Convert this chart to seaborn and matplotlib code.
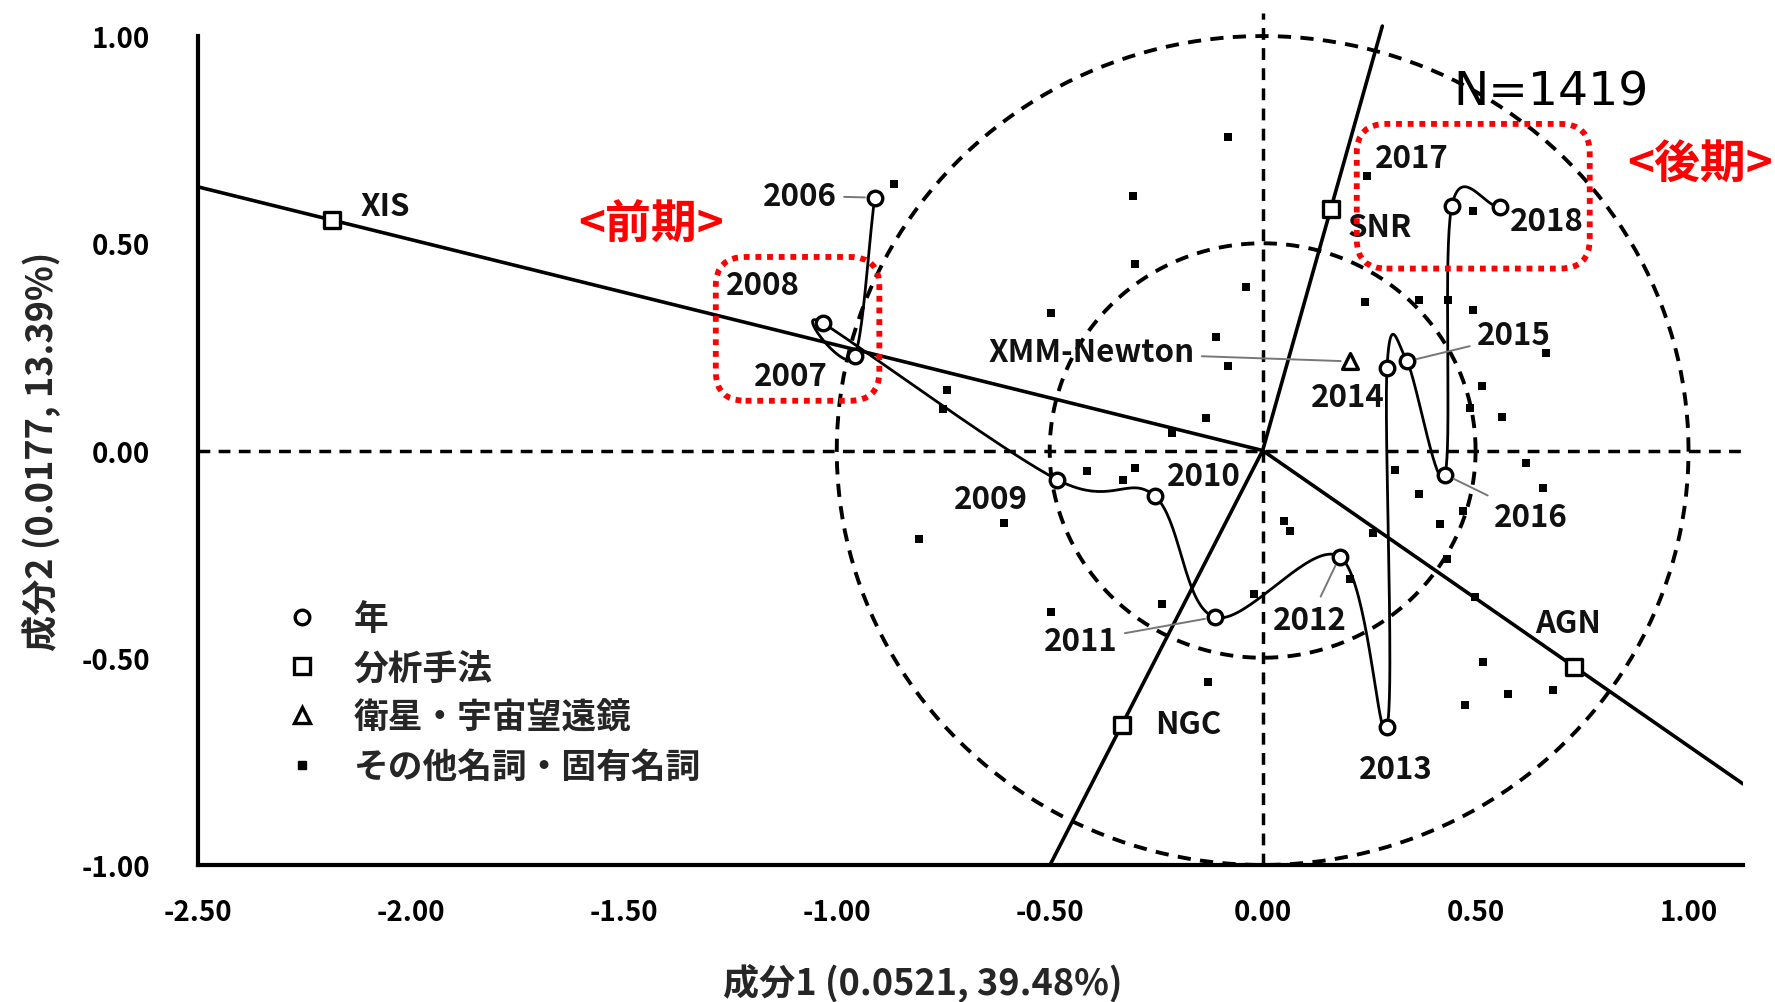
import numpy as np
import pandas as pd
import matplotlib
matplotlib.use("Agg")
import matplotlib.pyplot as plt
from matplotlib.patches import FancyBboxPatch
from matplotlib.lines import Line2D
import seaborn as sns

# ---------------------------------------------------------------- data
years = ["2006", "2007", "2008", "2009", "2010", "2011", "2012",
         "2013", "2014", "2015", "2016", "2017", "2018"]
year_x = [-0.911, -0.958, -1.032, -0.483, -0.253, -0.113, 0.181,
          0.292, 0.292, 0.339, 0.428, 0.444, 0.557]
year_y = [0.610, 0.227, 0.307, -0.070, -0.110, -0.402, -0.256,
          -0.667, 0.199, 0.215, -0.058, 0.589, 0.587]

methods = ["XIS", "SNR", "NGC", "AGN"]
method_x = [-2.185, 0.160, -0.331, 0.732]
method_y = [0.556, 0.583, -0.663, -0.522]

satellites = ["XMM-Newton"]
satellite_x = [0.206]
satellite_y = [0.215]

other_x = [-0.866, -0.498, -0.740, -0.750, -0.132, -0.300, -0.413, -0.327,
           -0.607, 0.050, 0.065, -0.498, -0.237, -0.214, -0.020, -0.806,
           -0.128, 0.514, 0.561, 0.487, 0.366, 0.417, 0.619, 0.658, 0.471,
           0.432, 0.311, 0.206, 0.260, 0.498, 0.518, 0.475, 0.576, 0.681,
           0.495, 0.245, 0.241, 0.366, 0.436, 0.494, 0.666, -0.082, -0.304,
           -0.300, -0.039, -0.109, -0.082]
other_y = [0.643, 0.331, 0.147, 0.100, 0.079, -0.042, -0.050, -0.070,
           -0.174, -0.170, -0.195, -0.390, -0.370, 0.043, -0.345, -0.214,
           -0.558, 0.155, 0.082, 0.103, -0.106, -0.178, -0.030, -0.090, -0.146,
           -0.262, -0.046, -0.310, -0.198, -0.354, -0.510, -0.615, -0.587, -0.579,
           0.579, 0.663, 0.359, 0.363, 0.363, 0.339, 0.235, 0.756, 0.615,
           0.451, 0.395, 0.275, 0.203]

n_docs = 1419
xlabel = "成分1 (0.0521, 39.48%)"
ylabel = "成分2 (0.0177, 13.39%)"
legend_labels = ["年", "分析手法", "衛星・宇宙望遠鏡", "その他名詞・固有名詞"]

# --------------------------------------------------------------- style
sns.set_theme(style="white")
plt.rcParams["font.family"] = ["Noto Sans CJK JP", "DejaVu Sans"]
plt.rcParams["axes.unicode_minus"] = False

X_MIN, X_MAX = -2.5, 1.128
Y_MIN, Y_MAX = -1.0, 1.055
RAY_TOP = 1.024
LABEL_SIZE = 22.5

fig = plt.figure(figsize=(17.75, 10.03), dpi=100)
ax = fig.add_axes([0.1115, 0.1366, 0.8705, 0.8492])
ax.set_xlim(X_MIN, X_MAX)
ax.set_ylim(Y_MIN, Y_MAX)


def catmull_rom(px, py, n=40):
    """Smooth curve through the points in their given order."""
    P = np.column_stack([px, py]).astype(float)
    ext = np.vstack([2 * P[0] - P[1], P, 2 * P[-1] - P[-2]])
    t = np.linspace(0, 1, n)[:, None]
    h00 = 2 * t**3 - 3 * t**2 + 1
    h10 = t**3 - 2 * t**2 + t
    h01 = -2 * t**3 + 3 * t**2
    h11 = t**3 - t**2
    parts = []
    for i in range(1, len(ext) - 2):
        p0, p1, p2, p3 = ext[i - 1], ext[i], ext[i + 1], ext[i + 2]
        m1, m2 = (p2 - p0) / 2, (p3 - p1) / 2
        seg = h00 * p1 + h10 * m1 + h01 * p2 + h11 * m2
        parts.append(seg if i == 1 else seg[1:])
    return np.vstack(parts)


def ray_end(x, y):
    """Extend the direction of (x, y) from the origin to the plot frame."""
    ts = []
    if x > 0:
        ts.append(X_MAX / x)
    if x < 0:
        ts.append(X_MIN / x)
    if y > 0:
        ts.append(RAY_TOP / y)
    if y < 0:
        ts.append(Y_MIN / y)
    t = min(ts)
    return x * t, y * t


# reference axes through the origin
dash = (0, (3.4, 2.4))
ax.plot([X_MIN, X_MAX], [0, 0], color="black", lw=2.5, ls=dash, zorder=1)
ax.plot([0, 0], [Y_MIN, Y_MAX], color="black", lw=2.5, ls=dash, zorder=1)

# dashed circles of radius 0.5 and 1
theta = np.linspace(0, 2 * np.pi, 400)
for r in (0.5, 1.0):
    ax.plot(r * np.cos(theta), r * np.sin(theta), color="black", lw=2.8,
            ls=dash, zorder=1)

# rays from the origin through each analysis-method point
for mx, my in zip(method_x, method_y):
    ex, ey = ray_end(mx, my)
    ax.plot([0, ex], [0, ey], color="black", lw=2.6, zorder=2)

# smoothed path through the years
curve = catmull_rom(year_x, year_y)
curve_df = pd.DataFrame({"x": curve[:, 0], "y": curve[:, 1],
                         "order": np.arange(len(curve))})
sns.lineplot(data=curve_df, x="x", y="y", sort=False, estimator=None,
             color="black", lw=2.0, ax=ax, zorder=3)

# points
other_df = pd.DataFrame({"x": other_x, "y": other_y})
sns.scatterplot(data=other_df, x="x", y="y", marker="s", s=34,
                color="black", linewidth=0, ax=ax, zorder=4)

year_df = pd.DataFrame({"x": year_x, "y": year_y, "label": years})
sns.scatterplot(data=year_df, x="x", y="y", marker="o", s=110,
                facecolor="white", edgecolor="black", linewidth=2.4,
                ax=ax, zorder=5)

method_df = pd.DataFrame({"x": method_x, "y": method_y, "label": methods})
sns.scatterplot(data=method_df, x="x", y="y", marker="s", s=130,
                facecolor="white", edgecolor="black", linewidth=2.4,
                ax=ax, zorder=5)

sat_df = pd.DataFrame({"x": satellite_x, "y": satellite_y, "label": satellites})
sns.scatterplot(data=sat_df, x="x", y="y", marker="^", s=130,
                facecolor="white", edgecolor="black", linewidth=2.4,
                ax=ax, zorder=5)

# point labels (offsets in pixels, alignment, leader line)
year_label_style = {
    "2006": ((-38, 2), "right", True),
    "2007": ((-27, -20), "right", False),
    "2008": ((-23, 38), "right", False),
    "2009": ((-29, -19), "right", False),
    "2010": ((12, 20), "left", False),
    "2011": ((-97, -24), "right", True),
    "2012": ((-67, -63), "left", True),
    "2013": ((9, -42), "center", False),
    "2014": ((-2, -29), "right", False),
    "2015": ((70, 26), "left", True),
    "2016": ((49, -42), "left", True),
    "2017": ((-3, 48), "right", False),
    "2018": ((10, -14), "left", False),
}
method_label_style = {
    "XIS": ((28, 14), "left", False),
    "SNR": ((17, -18), "left", False),
    "NGC": ((33, 1), "left", False),
    "AGN": ((-39, 44), "left", False),
    "XMM-Newton": ((-156, 9), "right", True),
}


def put_label(text, x, y, style):
    (dx, dy), ha, leader = style
    kw = dict(xy=(x, y), xytext=(dx, dy), textcoords="offset pixels",
              ha=ha, va="center", fontsize=LABEL_SIZE, fontweight="bold",
              color="#111111", zorder=6)
    if leader:
        kw["arrowprops"] = dict(arrowstyle="-", color="#777777", lw=1.4,
                                shrinkA=3, shrinkB=7)
    ax.annotate(text, **kw)


for lab, x, y in zip(years, year_x, year_y):
    put_label(lab, x, y, year_label_style[lab])
for lab, x, y in zip(methods, method_x, method_y):
    put_label(lab, x, y, method_label_style[lab])
for lab, x, y in zip(satellites, satellite_x, satellite_y):
    put_label(lab, x, y, method_label_style[lab])

# highlighted periods
for (x0, y0, x1, y1) in [(-1.284, 0.120, -0.900, 0.467),
                         (0.221, 0.439, 0.768, 0.788)]:
    box = FancyBboxPatch((x0, y0), x1 - x0, y1 - y0,
                         boxstyle="round,pad=0,rounding_size=0.07",
                         fill=False, edgecolor="red", lw=4.2,
                         ls=(0, (1, 1)), zorder=7)
    ax.add_patch(box)

ax.text(-1.437, 0.545, "<前期>", color="red", fontsize=33, fontweight="bold",
        ha="center", va="center", zorder=8)
ax.text(1.028, 0.69, "<後期>", color="red", fontsize=33, fontweight="bold",
        ha="center", va="center", zorder=8, clip_on=False)
ax.text(0.449, 0.866, f"N={n_docs}", color="black", fontsize=34,
        family="DejaVu Sans", ha="left", va="center", zorder=8)

# legend
handles = [
    Line2D([], [], ls="none", marker="o", ms=10.5, mfc="white", mec="black", mew=2.4),
    Line2D([], [], ls="none", marker="s", ms=11, mfc="white", mec="black", mew=2.4),
    Line2D([], [], ls="none", marker="^", ms=11, mfc="white", mec="black", mew=2.4),
    Line2D([], [], ls="none", marker="s", ms=6, mfc="black", mec="black"),
]
leg = ax.legend(handles, legend_labels, loc="upper left",
                bbox_to_anchor=(0.0564, 0.310), frameon=False,
                prop={"size": 25, "weight": "bold"}, handlelength=1.0,
                handletextpad=0.97, labelspacing=0.41, borderpad=0,
                borderaxespad=0)

# axes, ticks and labels
sns.despine(ax=ax)
ax.spines["left"].set_bounds(-1, 1)
for side in ("left", "bottom"):
    ax.spines[side].set_linewidth(3.0)
    ax.spines[side].set_color("black")
    ax.spines[side].set_zorder(9)

ax.set_xticks(np.arange(-2.5, 1.01, 0.5))
ax.set_yticks(np.arange(-1.0, 1.01, 0.5))
ax.set_xticklabels([f"{v:.2f}" for v in np.arange(-2.5, 1.01, 0.5)])
ax.set_yticklabels([f"{v:.2f}" for v in np.arange(-1.0, 1.01, 0.5)])
ax.tick_params(axis="both", direction="inout", length=13, width=2.2,
               colors="black", labelsize=20)
ax.tick_params(axis="x", pad=17)
ax.tick_params(axis="y", pad=28)
for t in ax.get_xticklabels() + ax.get_yticklabels():
    t.set_fontweight("bold")

ax.set_xlabel(xlabel, fontsize=26, fontweight="bold", va="center")
ax.set_ylabel(ylabel, fontsize=26, fontweight="bold", va="center")
ax.xaxis.set_label_coords(0.469, -0.137)
ax.yaxis.set_label_coords(-0.102, 0.487)

fig.savefig("out.png", dpi=100, facecolor="white")
